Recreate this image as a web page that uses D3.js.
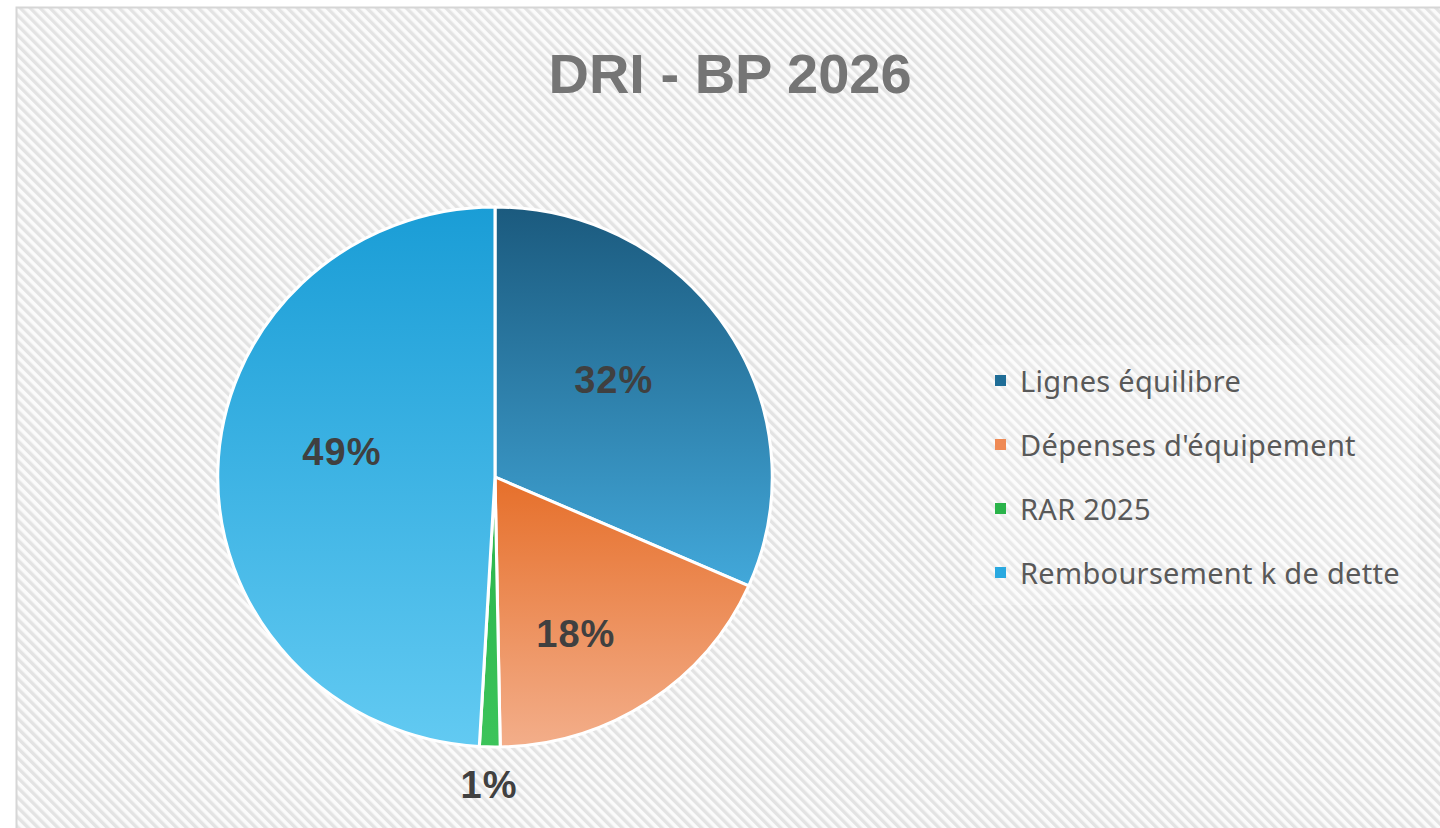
<!DOCTYPE html>
<html><head><meta charset="utf-8">
<script src="https://cdn.jsdelivr.net/npm/d3@7"></script>
<style>html,body{margin:0;padding:0;background:#fff;overflow:hidden}</style>
</head><body>
<svg id="chart" width="1440" height="828"></svg>
<script>
const title = "DRI - BP 2026";
const categories = ["Lignes équilibre", "Dépenses d'équipement", "RAR 2025", "Remboursement k de dette"];
const values = [31.6, 18.1, 1.2, 49.1];
const labels = ["32%", "18%", "1%", "49%"];
const gradTop = ["#1b5a7e", "#e66f2a", "#2ab34a", "#1a9dd6"];
const gradBottom = ["#42a8da", "#f3ae8a", "#3cc45a", "#62caf2"];
const legendColors = ["#1f6d97", "#ef8a55", "#2ab34a", "#2aa9e0"];
// label placement tweaks (angle offset in degrees, radius fraction)
const labelAngleShift = [-7, 7, 0, 8];
const labelRadius = [0.56, 0.65, 1.14, 0.56];

const svg = d3.select("#chart");
const defs = svg.append("defs");
const pat = defs.append("pattern").attr("id","hatch").attr("patternUnits","userSpaceOnUse")
  .attr("width",7).attr("height",7).attr("patternTransform","rotate(-45)");
pat.append("rect").attr("width",7).attr("height",7).attr("fill","#fbfbfb");
pat.append("rect").attr("width",3.4).attr("height",7).attr("fill","#e3e3e3");

svg.append("rect").attr("x",16.5).attr("y",7.5).attr("width",1440).attr("height",840)
  .attr("fill","url(#hatch)").attr("stroke","#d6d6d6").attr("stroke-width",2);

svg.append("text").attr("x",730).attr("y",93).attr("text-anchor","middle")
  .attr("font-family","Liberation Sans, Arial, sans-serif").attr("font-weight","bold")
  .attr("font-size",56).attr("fill","#757575").text(title);

const cx = 495, cy = 477, r = 270, sx = 1.027;
const pie = d3.pie().sort(null).value(d => d)(values);
const arc = d3.arc().innerRadius(0).outerRadius(r);

const g = svg.append("g").attr("transform",`translate(${cx},${cy}) scale(${sx},1)`);
pie.forEach((p,i) => {
  const lg = defs.append("linearGradient").attr("id","g"+i).attr("gradientUnits","userSpaceOnUse")
    .attr("x1",0).attr("x2",0);
  const pts=[0]; const n=40;
  for(let k=0;k<=n;k++){const a=p.startAngle+(p.endAngle-p.startAngle)*k/n; pts.push(-Math.cos(a)*r);}
  const b = d3.extent(pts);
  lg.attr("y1",b[0]).attr("y2",b[1]);
  lg.append("stop").attr("offset","0%").attr("stop-color",gradTop[i]);
  lg.append("stop").attr("offset","100%").attr("stop-color",gradBottom[i]);
  g.append("path").attr("d",arc(p)).attr("fill",`url(#g${i})`)
    .attr("stroke","#fff").attr("stroke-width",3).attr("stroke-linejoin","round");
});

pie.forEach((p,i) => {
  const a = (p.startAngle + p.endAngle)/2 + labelAngleShift[i]*Math.PI/180;
  const rr = r*labelRadius[i];
  svg.append("text").attr("x",cx + Math.sin(a)*rr*sx).attr("y",cy - Math.cos(a)*rr)
    .attr("text-anchor","middle").attr("dominant-baseline","central")
    .attr("font-family","Liberation Sans, Arial, sans-serif").attr("font-weight","bold")
    .attr("font-size",38).attr("letter-spacing",1).attr("fill","#404040").text(labels[i]);
});

// legend
svg.append("rect").attr("x",972).attr("y",345).attr("width",446).attr("height",260)
  .attr("fill","#ffffff").attr("fill-opacity",0.22);
const lgd = svg.append("g");
categories.forEach((c,i) => {
  const y = 380 + i*64;
  lgd.append("rect").attr("x",995).attr("y",y-5).attr("width",11).attr("height",11).attr("fill",legendColors[i]);
  lgd.append("text").attr("x",1020).attr("y",y).attr("dominant-baseline","central")
    .attr("font-family","Noto Sans, sans-serif").attr("font-size",29).attr("letter-spacing",0.3)
    .attr("fill","#595959").text(c);
});
</script>
</body></html>
